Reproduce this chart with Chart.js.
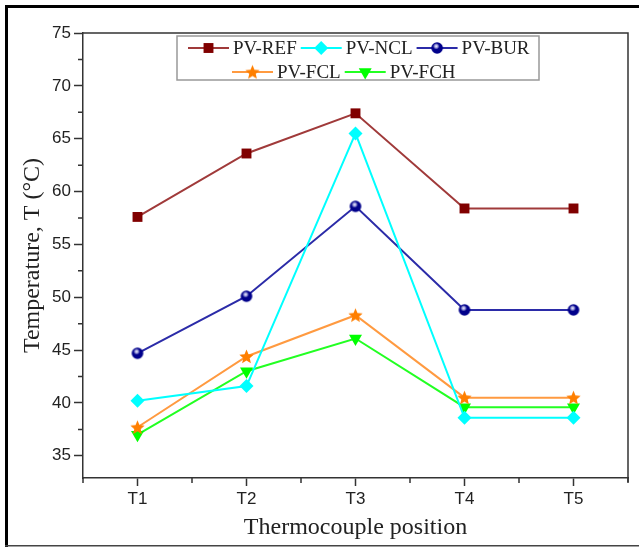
<!DOCTYPE html>
<html>
<head>
<meta charset="utf-8">
<script src="https://cdn.jsdelivr.net/npm/chart.js"></script>
<style>
html, body { margin: 0; padding: 0; background: #fff; }
</style>
</head>
<body>
<canvas id="tempChart" width="639" height="547"></canvas>
<script>
const positions = ['T1', 'T2', 'T3', 'T4', 'T5'];
const pvRef = [57.6, 63.6, 67.4, 58.4, 58.4];
const pvNcl = [40.2, 41.6, 65.5, 38.6, 38.6];
const pvBur = [44.7, 50.1, 58.6, 48.8, 48.8];
const pvFcl = [37.7, 44.4, 48.3, 40.5, 40.5];
const pvFch = [37.0, 43.0, 46.1, 39.6, 39.6];
const yTicks = [35, 40, 45, 50, 55, 60, 65, 70, 75];
const yMinor = [37.5, 42.5, 47.5, 52.5, 57.5, 62.5, 67.5, 72.5];

// filled star marker (Chart.js 'star' is only drawn with lines)
function starImage(r, color) {
    const c = document.createElement('canvas');
    const s = Math.ceil(r * 2 + 2);
    c.width = s; c.height = s;
    const g = c.getContext('2d');
    g.fillStyle = color;
    g.beginPath();
    for (let i = 0; i < 10; i++) {
        const rad = i % 2 === 0 ? r : r * 0.45;
        const a = -Math.PI / 2 + i * Math.PI / 5;
        const px = s / 2 + rad * Math.cos(a), py = s / 2 + 0.6 + rad * Math.sin(a);
        if (i === 0) g.moveTo(px, py); else g.lineTo(px, py);
    }
    g.closePath();
    g.fill();
    return c;
}

// shaded ball marker
function ballImage(r, color) {
    const c = document.createElement('canvas');
    const s = Math.ceil(r * 2 + 2);
    c.width = s; c.height = s;
    const g = c.getContext('2d');
    g.fillStyle = color;
    g.beginPath();
    g.arc(s / 2, s / 2, r, 0, Math.PI * 2);
    g.fill();
    const hx = s / 2 - r * 0.15, hy = s / 2 - r * 0.3;
    const grad = g.createRadialGradient(hx, hy, 0, hx, hy, r * 0.55);
    grad.addColorStop(0, 'rgba(255,255,255,1)');
    grad.addColorStop(0.5, 'rgba(220,220,255,0.7)');
    grad.addColorStop(1, 'rgba(255,255,255,0)');
    g.fillStyle = grad;
    g.beginPath();
    g.arc(hx, hy, r * 0.55, 0, Math.PI * 2);
    g.fill();
    return c;
}

const starMark = starImage(7.5, '#FF7F00');
const ballMark = ballImage(5.8, '#00008B');

const series = [
    { label: 'PV-REF', data: pvRef, line: '#A03A3A', mark: '#800000', style: 'rect', radius: 7, rot: 0 },
    { label: 'PV-NCL', data: pvNcl, line: '#00FFFF', mark: '#00FFFF', style: 'rectRot', radius: 7, rot: 0 },
    { label: 'PV-BUR', data: pvBur, line: '#2B2BA8', mark: '#00008B', style: ballMark, radius: 6, rot: 0 },
    { label: 'PV-FCL', data: pvFcl, line: '#FF9A40', mark: '#FF7F00', style: starMark, radius: 7, rot: 0 },
    { label: 'PV-FCH', data: pvFch, line: '#22FF22', mark: '#00FF00', style: 'triangle', radius: 7.5, rot: 180 }
];

const framePlugin = {
    id: 'frame',
    beforeDraw(chart) {
        const ctx = chart.ctx;
        ctx.save();
        ctx.fillStyle = '#fff';
        ctx.fillRect(0, 0, chart.width, chart.height);
        ctx.restore();
    },
    afterDraw(chart) {
        const { ctx, chartArea: a, scales } = chart;
        ctx.save();
        // top and right side of the plot box
        ctx.strokeStyle = '#333';
        ctx.lineWidth = 1.5;
        ctx.beginPath();
        ctx.moveTo(a.left, a.top);
        ctx.lineTo(a.right, a.top);
        ctx.lineTo(a.right, a.bottom + 4);
        ctx.stroke();

        // minor ticks
        ctx.beginPath();
        yMinor.forEach(v => {
            const py = scales.y.getPixelForValue(v);
            ctx.moveTo(a.left, py);
            ctx.lineTo(a.left - 5, py);
        });
        const half = (scales.x.getPixelForValue(1) - scales.x.getPixelForValue(0)) / 2;
        for (let i = 0; i <= positions.length; i++) {
            const px = scales.x.getPixelForValue(i) - half;
            ctx.moveTo(px, a.bottom);
            ctx.lineTo(px, a.bottom + 5);
        }
        ctx.stroke();

        // legend box
        const bx = a.left + 94, by = a.top + 3, bw = 362, bh = 44;
        ctx.strokeStyle = '#999';
        ctx.lineWidth = 1.5;
        ctx.strokeRect(bx, by, bw, bh);
        ctx.font = '19px "Liberation Serif", "Times New Roman", serif';
        ctx.textBaseline = 'middle';
        const rows = [{ items: [0, 1, 2], x: bx + 11, y: by + 12 }, { items: [3, 4], x: bx + 55, y: by + 36 }];
        rows.forEach(row => {
            let x = row.x;
            row.items.forEach(i => {
                const s = series[i];
                ctx.strokeStyle = s.line;
                ctx.lineWidth = 2;
                ctx.beginPath();
                ctx.moveTo(x, row.y);
                ctx.lineTo(x + 41, row.y);
                ctx.stroke();
                ctx.fillStyle = s.mark;
                ctx.strokeStyle = s.mark;
                Chart.helpers.drawPoint(ctx, { pointStyle: s.style, radius: s.radius, rotation: s.rot, borderWidth: 0 }, x + 20.5, row.y);
                ctx.fillStyle = '#222';
                ctx.fillText(s.label, x + 45, row.y + 1);
                x += 45 + ctx.measureText(s.label).width + 4;
            });
        });

        // outer picture border
        ctx.fillStyle = '#000';
        ctx.fillRect(5, 5, chart.width - 5, 3);
        ctx.fillRect(5, 5, 3, chart.height - 5);
        ctx.fillStyle = '#444';
        ctx.fillRect(5, chart.height - 2, chart.width - 5, 1.5);
        ctx.restore();
    }
};

const ctx = document.getElementById('tempChart').getContext('2d');
const tickFont = { family: '"Liberation Sans", Arial, sans-serif', size: 17 };
const titleFont = { family: '"Liberation Serif", "Times New Roman", serif', size: 24 };

new Chart(ctx, {
    type: 'line',
    data: {
        labels: positions,
        datasets: series.map(s => ({
            label: s.label,
            data: s.data,
            borderColor: s.line,
            borderWidth: 2,
            backgroundColor: s.mark,
            pointStyle: s.style,
            pointRadius: s.radius,
            pointRotation: s.rot,
            pointBackgroundColor: s.mark,
            pointBorderColor: s.mark,
            pointBorderWidth: 0,
            tension: 0,
            clip: false
        }))
    },
    options: {
        responsive: false,
        animation: false,
        layout: { padding: { top: 33, right: 11, left: 0, bottom: 0 } },
        plugins: {
            legend: { display: false },
            tooltip: { enabled: false }
        },
        scales: {
            x: {
                offset: true,
                afterFit: s => { s.height = 69; },
                border: { color: '#333', width: 1.5 },
                grid: { offset: false, drawOnChartArea: false, tickLength: 8, tickColor: '#333', tickWidth: 1.5 },
                ticks: { font: tickFont, color: '#222', padding: 3, maxRotation: 0 },
                title: { display: true, text: 'Thermocouple position', font: titleFont, color: '#222', padding: { top: 0, bottom: 5 } }
            },
            y: {
                min: 32.9,
                max: 75,
                afterBuildTicks: s => { s.ticks = yTicks.map(v => ({ value: v })); },
                afterFit: s => { s.width = 83; },
                border: { color: '#333', width: 1.5 },
                grid: { drawOnChartArea: false, tickLength: 9, tickColor: '#333', tickWidth: 1.5 },
                ticks: { font: tickFont, color: '#222', padding: 3 },
                title: { display: true, text: 'Temperature, T (°C)', font: titleFont, color: '#222', padding: { top: 18, bottom: 0 } }
            }
        }
    },
    plugins: [framePlugin]
});
</script>
</body>
</html>
